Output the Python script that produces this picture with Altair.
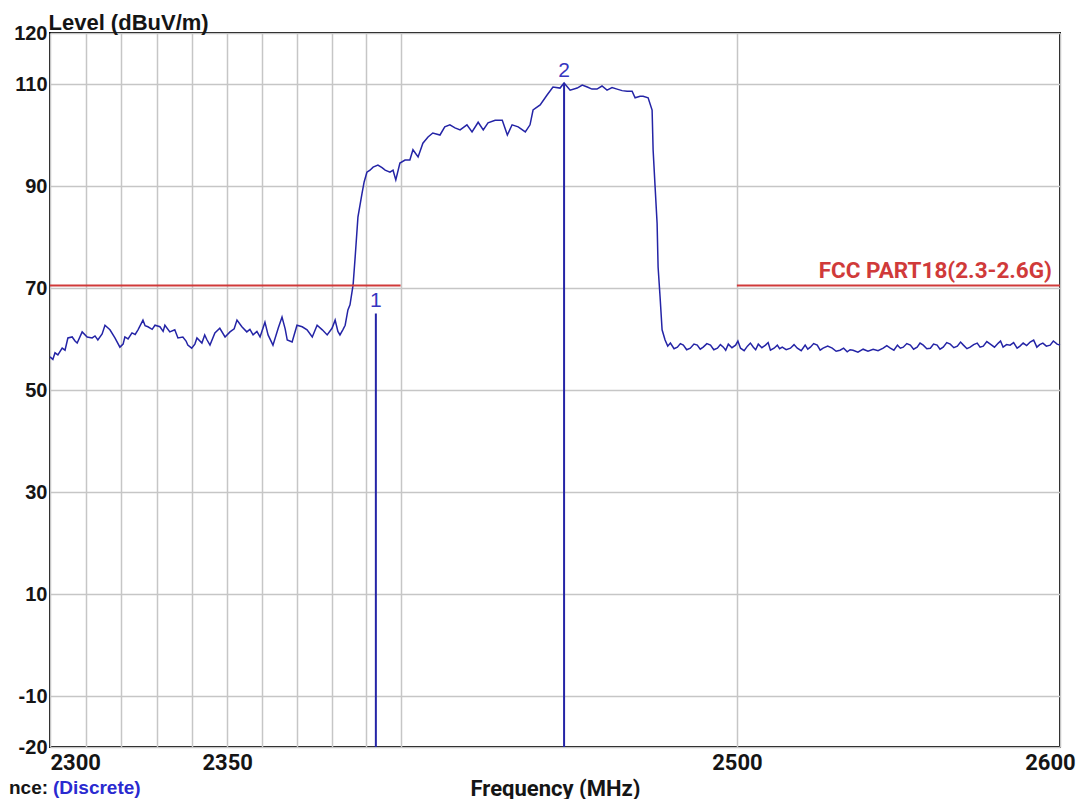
import altair as alt
import pandas as pd

# ---------------- data ----------------
freq1 = [2300.0, 2300.8, 2301.4, 2302.2, 2303.4, 2304.2, 2305.0, 2306.2, 2307.0, 2307.6,
         2309.0, 2310.4, 2311.8, 2312.6, 2313.4, 2314.6, 2315.4, 2316.8, 2318.2, 2319.6,
         2320.5, 2321.0, 2321.9, 2323.0, 2323.9, 2324.7, 2326.1, 2326.7, 2327.5, 2328.7,
         2329.5, 2330.9, 2331.8, 2332.3, 2333.7, 2335.1, 2336.0, 2337.4, 2338.3, 2338.8,
         2339.9, 2340.8, 2341.4, 2342.8, 2343.6, 2344.2, 2345.1, 2346.5, 2347.9, 2349.4,
         2350.8, 2352.0, 2352.8, 2354.2, 2355.6, 2356.5, 2357.4, 2358.5, 2359.4, 2360.8,
         2361.7, 2363.1, 2364.6, 2365.7, 2366.6, 2367.2, 2368.6, 2370.0, 2371.5, 2372.9,
         2374.4, 2375.8, 2377.3, 2378.7, 2380.1, 2381.0, 2381.8, 2382.4, 2383.3, 2383.9,
         2384.7]
level1 = [56.5, 56.0, 57.3, 56.9, 58.2, 57.8, 60.2, 60.4, 59.6, 59.2,
          61.4, 60.4, 60.2, 60.6, 59.8, 61.0, 62.7, 61.8, 60.2, 58.4,
          59.0, 60.4, 60.0, 61.2, 60.9, 61.8, 63.7, 62.6, 62.4, 61.9,
          62.7, 62.4, 61.5, 62.7, 61.4, 61.8, 60.2, 60.4, 59.6, 58.8,
          58.2, 59.0, 60.2, 59.2, 60.8, 59.9, 58.8, 61.2, 62.1, 60.4,
          61.4, 62.0, 63.7, 62.4, 61.4, 61.9, 60.8, 61.5, 60.4, 63.3,
          60.8, 58.8, 62.1, 64.3, 62.0, 59.8, 59.4, 62.7, 62.4, 61.8,
          60.4, 62.7, 61.8, 60.8, 62.1, 63.7, 61.5, 60.8, 61.9, 62.7,
          65.7]

freq2 = [2385.3, 2386.2, 2386.8, 2387.6, 2388.8, 2389.4, 2390.2, 2391.1, 2392.0, 2393.4,
         2394.6, 2395.5, 2396.9, 2397.8, 2398.6, 2399.8, 2401.3, 2402.7, 2403.6, 2405.1,
         2406.5, 2408.0, 2409.4, 2411.5, 2412.9, 2414.4, 2415.9, 2417.4, 2419.4, 2420.9,
         2422.7, 2424.2, 2425.6, 2427.7, 2429.8, 2431.3, 2432.7, 2434.5, 2436.6, 2438.0,
         2438.9, 2441.0, 2443.0, 2444.8, 2446.9, 2448.1, 2449.9, 2452.0, 2453.5, 2455.0,
         2456.4, 2457.9, 2459.4, 2460.9, 2462.4, 2463.9, 2465.4, 2466.9, 2468.4, 2469.3,
         2470.8, 2471.7, 2473.2, 2474.4]
level2 = [66.7, 70.6, 76.1, 83.9, 88.6, 90.8, 92.7, 93.1, 93.7, 94.1,
          93.6, 93.1, 92.7, 93.1, 91.2, 94.5, 95.1, 95.1, 97.1, 95.7,
          98.4, 99.6, 100.4, 100.0, 101.6, 102.0, 101.4, 101.0, 102.0, 100.6,
          102.5, 101.0, 102.4, 102.9, 102.9, 100.0, 102.0, 101.6, 100.6, 102.0,
          104.9, 105.9, 107.8, 109.4, 109.2, 110.2, 108.8, 109.2, 109.8, 109.4,
          109.0, 109.0, 109.6, 108.8, 109.3, 109.0, 108.7, 108.6, 108.6, 107.3,
          107.6, 107.6, 107.3, 104.9]

freq3 = [2474.7, 2475.3, 2475.9, 2476.2, 2476.8, 2477.4, 2478.3, 2479.1, 2479.9, 2481.0]
level3 = [97.1, 89.8, 82.7, 74.1, 68.2, 61.8, 59.8, 58.6, 59.2, 58.1]

freq4 = [2482.0, 2482.9, 2483.8, 2484.8, 2485.9, 2487.0, 2488.0, 2488.9, 2489.8, 2490.9,
         2492.0, 2493.0, 2494.1, 2495.0, 2495.9, 2496.6, 2497.4, 2498.5, 2499.6, 2500.3,
         2501.1, 2502.2, 2503.2, 2504.1, 2505.0, 2505.7, 2506.5, 2507.6, 2508.7, 2509.5,
         2510.2, 2511.3, 2512.3, 2513.0, 2513.8, 2515.0, 2516.3, 2517.4, 2518.4, 2519.6,
         2520.8, 2521.6, 2522.4, 2523.4, 2524.5, 2525.4, 2526.3, 2527.7, 2529.1, 2530.3,
         2531.5, 2532.6, 2533.7, 2534.6, 2535.5, 2537.0, 2538.6, 2540.1, 2541.7, 2543.2,
         2544.8, 2545.9, 2547.0, 2548.1, 2549.2, 2550.1, 2551.0, 2552.1, 2553.2, 2554.2,
         2555.3, 2556.2, 2557.2, 2558.3, 2559.4, 2560.4, 2561.5, 2562.4, 2563.4, 2564.5,
         2565.6, 2566.7, 2567.8, 2568.8, 2569.7, 2570.8, 2571.8, 2572.9, 2574.0, 2574.9,
         2575.9, 2577.0, 2578.1, 2579.4, 2580.6, 2581.3, 2582.1, 2583.2, 2584.3, 2585.4,
         2586.5, 2587.4, 2588.4, 2589.5, 2590.6, 2591.7, 2592.7, 2593.6, 2594.6, 2595.7,
         2596.9, 2597.9, 2599.1, 2600.0]
level4 = [58.4, 59.1, 58.8, 57.9, 58.2, 59.0, 58.8, 58.0, 58.4, 59.1,
          58.8, 57.9, 58.2, 58.9, 58.4, 57.8, 59.0, 58.3, 58.8, 59.6,
          58.2, 57.7, 58.6, 59.2, 58.4, 57.9, 59.0, 58.3, 58.8, 59.3,
          57.8, 58.2, 58.8, 58.1, 58.4, 57.9, 58.2, 58.9, 58.2, 57.7,
          58.8, 58.0, 58.4, 59.1, 58.8, 57.8, 58.2, 58.6, 58.2, 57.6,
          57.8, 58.2, 57.5, 57.9, 57.8, 57.4, 58.0, 57.6, 58.0, 57.7,
          58.2, 58.7, 58.2, 57.8, 58.8, 58.2, 58.4, 59.1, 58.8, 58.0,
          58.4, 59.2, 58.8, 58.1, 58.2, 59.0, 58.8, 58.0, 58.4, 59.3,
          59.0, 58.3, 58.6, 59.4, 58.8, 58.1, 58.4, 58.9, 59.2, 58.4,
          58.6, 59.5, 59.0, 58.4, 59.2, 59.6, 58.4, 58.9, 58.8, 59.3,
          58.2, 58.6, 59.2, 58.7, 59.4, 59.8, 58.4, 58.9, 59.2, 58.6,
          58.8, 59.6, 59.0, 58.8]

limit_start = [2300, 2500]
limit_end = [2400, 2600]
limit_level = [70.5, 70.5]
limit_name = ["FCC PART18(2.3-2.6G)"]

marker_freq = [2392.8, 2448.1]
marker_level = [65.0, 110.0]
marker_name = ["1", "2"]

x_grid = [2300, 2310, 2320, 2330, 2340, 2350, 2360, 2370, 2380, 2390, 2400, 2500, 2600]
x_labels = [2300, 2350, 2500, 2600]
y_ticks = [-20, -10, 10, 30, 50, 70, 90, 110, 120]
x_domain = [2300, 2600]
y_domain = [-20, 120]
footer = ["nce:", "(Discrete)"]

# ---------------- styling ----------------
BLUE = "#2424a6"
MARK_BLUE = "#3636c0"
RED = "#d03a3a"
GRID = "#c6c6c6"
INK = "#151515"
SANS = "Liberation Sans, Arial, sans-serif"
COND = "Roboto, Liberation Sans, sans-serif"

trace = pd.DataFrame({"freq": freq1 + freq2 + freq3 + freq4,
                      "level": level1 + level2 + level3 + level4})
limits = pd.DataFrame({"freq": limit_start, "freq_end": limit_end, "level": limit_level})
limit_text = pd.DataFrame({"freq": [limit_end[-1]], "level": [limit_level[-1]], "name": limit_name})
markers = pd.DataFrame({"freq": marker_freq, "level": marker_level, "name": marker_name})

xscale = alt.Scale(type="log", domain=x_domain, nice=False)
yscale = alt.Scale(domain=y_domain, nice=False, zero=False)

label_test = " || ".join(f"datum.value == {v}" for v in x_labels)
x_axis = alt.Axis(
    values=x_grid,
    title="Frequency (MHz)",
    labelExpr=f"({label_test}) ? '' + datum.value : ''",
    labelOverlap=False,
    labelFlush=False,
    labelAlign={"condition": {"test": "datum.value <= 2300", "value": "left"}, "value": "center"},
    labelOffset={"condition": {"test": "datum.value >= 2600", "value": -10}, "value": 0},
    ticks=False, domain=False,
    grid=True, gridColor=GRID, gridWidth=1.5,
    labelFont=COND, labelFontSize=22, labelFontWeight="bold", labelColor=INK,
    labelPadding=5,
    titleFont=COND, titleFontSize=22, titleFontWeight="bold", titleColor=INK,
    titleBaseline="alphabetic", titleY=48,
)
y_axis = alt.Axis(
    values=y_ticks,
    title="Level (dBuV/m)",
    titleAngle=0, titleAlign="left", titleBaseline="alphabetic",
    titleX=-2, titleY=-4,
    titleFont=SANS, titleFontSize=22, titleFontWeight="bold", titleColor=INK,
    labelExpr="datum.value < 0 ? '-' + abs(datum.value) : '' + datum.value",
    ticks=False, domain=False,
    grid=True, gridColor=GRID, gridWidth=1.5,
    labelFont=SANS, labelFontSize=20, labelFontWeight="bold", labelColor=INK,
    labelPadding=3,
)

X = alt.X("freq:Q", scale=xscale)
Y = alt.Y("level:Q", scale=yscale)

line = alt.Chart(trace).mark_line(color=BLUE, strokeWidth=1.5).encode(
    x=alt.X("freq:Q", scale=xscale, axis=x_axis),
    y=alt.Y("level:Q", scale=yscale, axis=y_axis),
)

limit_rule = alt.Chart(limits).mark_rule(color=RED, strokeWidth=2).encode(
    x=X, x2="freq_end:Q", y=Y,
)

limit_label = alt.Chart(limit_text).mark_text(
    color=RED, font=COND, fontSize=22.5, fontWeight="bold",
    align="right", baseline="alphabetic", dx=-8, dy=-7,
).encode(x=X, y=Y, text="name:N")

marker_rule = alt.Chart(markers).mark_rule(color=BLUE, strokeWidth=2).encode(
    x=X, y=Y, y2=alt.Y2(datum=y_domain[0]),
)

marker_label = alt.Chart(markers).mark_text(
    color=MARK_BLUE, font=SANS, fontSize=21, align="center", baseline="alphabetic", dy=-7,
).encode(x=X, y=Y, text="name:N")

foot_a = alt.Chart(pd.DataFrame({"t": [footer[0]]})).mark_text(
    font=SANS, fontSize=19, fontWeight="bold", color=INK, align="left", baseline="alphabetic",
).encode(x=alt.value(-41), y=alt.value(761), text="t:N")
foot_b = alt.Chart(pd.DataFrame({"t": [footer[1]]})).mark_text(
    font=SANS, fontSize=19, fontWeight="bold", color="#2a2ad0", align="left", baseline="alphabetic",
).encode(x=alt.value(3), y=alt.value(761), text="t:N")

chart = alt.layer(
    line, limit_rule, limit_label, marker_rule, marker_label, foot_a, foot_b
).properties(
    width=1010, height=714,
    autosize=alt.AutoSizeParams(type="none"),
    padding={"left": 42, "top": 25, "right": 20, "bottom": 52},
    background="white",
).configure_view(stroke="black", strokeWidth=2)

chart.save("out.html", embed_options={"renderer": "svg", "actions": False})
